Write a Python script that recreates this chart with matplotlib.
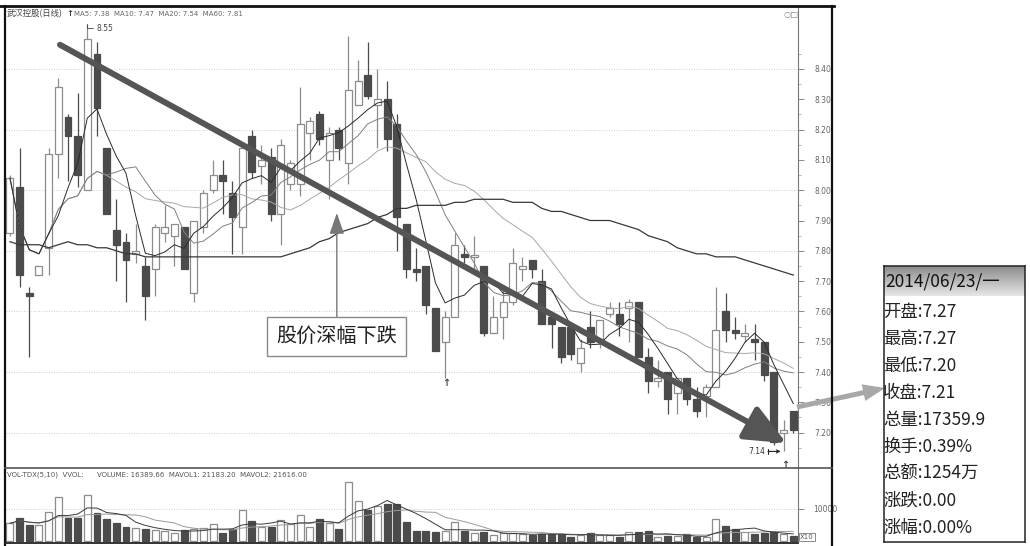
import numpy as np
import pandas as pd
import matplotlib
matplotlib.use("Agg")
import matplotlib.pyplot as plt
from matplotlib.patches import Rectangle, FancyArrow

plt.rcParams['font.family'] = ['Noto Sans CJK SC', 'DejaVu Sans']

# daily candles (82 trading days, last = 2014/06/23)
opens = [7.86, 8.01, 7.66, 7.72, 7.81, 8.12, 8.24, 8.18, 8.00, 8.45,
         8.14, 7.87, 7.83, 7.79, 7.75, 7.74, 7.86, 7.85, 7.88, 7.66,
         7.88, 8.00, 8.05, 7.99, 7.88, 8.18, 8.08, 8.11, 7.92, 8.02,
         8.02, 8.19, 8.25, 8.10, 8.20, 8.09, 8.28, 8.38, 8.28, 8.30,
         8.22, 7.89, 7.74, 7.75, 7.61, 7.50, 7.58, 7.79, 7.78, 7.75,
         7.53, 7.58, 7.63, 7.74, 7.77, 7.70, 7.58, 7.55, 7.55, 7.43,
         7.55, 7.51, 7.59, 7.59, 7.61, 7.63, 7.45, 7.37, 7.40, 7.33,
         7.38, 7.31, 7.32, 7.35, 7.60, 7.54, 7.52, 7.51, 7.50, 7.40,
         7.20, 7.27]
highs = [8.05, 8.14, 7.68, 7.75, 8.14, 8.37, 8.25, 8.32, 8.55, 8.49,
         8.14, 7.97, 7.86, 7.89, 7.78, 7.89, 7.95, 7.89, 7.88, 7.90,
         8.00, 8.10, 8.10, 8.03, 8.16, 8.20, 8.15, 8.14, 8.17, 8.10,
         8.34, 8.24, 8.26, 8.21, 8.21, 8.51, 8.43, 8.49, 8.40, 8.36,
         8.25, 7.89, 7.81, 7.75, 7.61, 7.60, 7.86, 7.82, 7.85, 7.75,
         7.65, 7.67, 7.81, 7.78, 7.77, 7.74, 7.58, 7.55, 7.55, 7.51,
         7.60, 7.57, 7.63, 7.63, 7.64, 7.63, 7.48, 7.44, 7.40, 7.38,
         7.38, 7.35, 7.36, 7.68, 7.66, 7.58, 7.56, 7.56, 7.50, 7.40,
         7.24, 7.27]
lows = [7.85, 7.68, 7.45, 7.72, 7.72, 8.04, 8.03, 8.01, 8.00, 8.18,
        7.92, 7.70, 7.63, 7.76, 7.57, 7.65, 7.83, 7.75, 7.74, 7.63,
        7.86, 7.99, 7.92, 7.79, 7.79, 8.04, 8.02, 7.90, 7.82, 8.00,
        7.98, 8.10, 8.15, 7.97, 8.10, 8.02, 8.28, 8.30, 8.14, 8.13,
        7.80, 7.71, 7.70, 7.59, 7.47, 7.38, 7.58, 7.76, 7.73, 7.52,
        7.53, 7.51, 7.62, 7.70, 7.71, 7.56, 7.48, 7.43, 7.44, 7.40,
        7.48, 7.48, 7.58, 7.52, 7.50, 7.45, 7.33, 7.35, 7.26, 7.26,
        7.29, 7.25, 7.25, 7.35, 7.50, 7.51, 7.50, 7.44, 7.37, 7.16,
        7.14, 7.20]
closes = [8.04, 7.72, 7.65, 7.75, 8.12, 8.34, 8.18, 8.05, 8.50, 8.27,
          7.92, 7.82, 7.77, 7.80, 7.65, 7.88, 7.88, 7.89, 7.74, 7.90,
          7.99, 8.05, 8.03, 7.91, 8.14, 8.06, 8.10, 7.92, 8.15, 8.09,
          8.22, 8.23, 8.17, 8.19, 8.14, 8.33, 8.36, 8.31, 8.30, 8.17,
          7.91, 7.74, 7.73, 7.62, 7.47, 7.58, 7.82, 7.78, 7.78, 7.53,
          7.58, 7.63, 7.76, 7.75, 7.74, 7.56, 7.56, 7.45, 7.46, 7.48,
          7.50, 7.57, 7.61, 7.56, 7.63, 7.45, 7.37, 7.38, 7.31, 7.38,
          7.31, 7.27, 7.35, 7.54, 7.54, 7.53, 7.53, 7.50, 7.39, 7.17,
          7.21, 7.21]
# volume in chart units (x10 hands)
volumes = [5600, 7200, 5000, 5000, 9000, 13750, 7200, 7300, 14400, 8750,
           6900, 5600, 4400, 4100, 3750, 3400, 3100, 2500, 3400, 3750,
           4100, 5300, 2500, 3750, 9700, 6250, 4400, 4400, 6500, 5300,
           8100, 4400, 6900, 5600, 3750, 18400, 12500, 9700, 10900, 11600,
           11600, 5900, 3100, 3100, 2900, 3100, 5900, 3100, 2500, 2900,
           1900, 2500, 2500, 2200, 1900, 2400, 2400, 2400, 1300, 1900,
           2500, 1900, 1900, 1300, 2900, 2900, 3100, 1300, 1600, 1600,
           2200, 1300, 1300, 6900, 4700, 3750, 2900, 2400, 2500, 2900,
           2200, 1736]
# MA60 needs older history, so read straight from the chart
ma60 = [7.83, 7.82, 7.82, 7.82, 7.81, 7.82, 7.83, 7.82, 7.82, 7.81,
        7.81, 7.80, 7.79, 7.79, 7.78, 7.78, 7.78, 7.78, 7.78, 7.78,
        7.78, 7.78, 7.78, 7.78, 7.78, 7.78, 7.78, 7.78, 7.78, 7.79,
        7.80, 7.81, 7.83, 7.84, 7.86, 7.87, 7.88, 7.89, 7.91, 7.92,
        7.94, 7.94, 7.95, 7.95, 7.95, 7.95, 7.96, 7.96, 7.97, 7.97,
        7.97, 7.97, 7.96, 7.96, 7.96, 7.94, 7.93, 7.93, 7.92, 7.91,
        7.90, 7.90, 7.90, 7.89, 7.88, 7.87, 7.85, 7.84, 7.83, 7.81,
        7.80, 7.79, 7.79, 7.78, 7.78, 7.78, 7.77, 7.76, 7.75, 7.74,
        7.73, 7.72]

info_date = "2014/06/23/一"
info_rows = ["开盘:7.27", "最高:7.27", "最低:7.20", "收盘:7.21", "总量:17359.9",
             "换手:0.39%", "总额:1254万", "涨跌:0.00", "涨幅:0.00%"]

W, H = 1030, 546
fig = plt.figure(figsize=(W / 100, H / 100), dpi=100)


def frac(x0, y0, x1, y1):
    return [x0 / W, 1 - y1 / H, (x1 - x0) / W, (y1 - y0) / H]


DARK = '#4b4b4b'
EDGE = '#8c8c8c'

o = np.array(opens); h = np.array(highs); l = np.array(lows); c = np.array(closes)
idx = np.arange(len(o))
up = c >= o
cs = pd.Series(closes)
ma5 = cs.rolling(5, min_periods=1).mean()
ma10 = cs.rolling(10, min_periods=1).mean()
ma20 = cs.rolling(20, min_periods=1).mean()

# ---- price panel
ax = fig.add_axes(frac(6, 7, 798, 467))
ax.set_xlim(-0.41, 81.49)
ax.set_ylim(7.0865, 8.6046)
for g in np.arange(7.2, 8.41, 0.2):
    ax.axhline(g, color='#bdbdbd', lw=0.6, ls=(0, (1, 2)), zorder=0)

ax.vlines(idx[up], l[up], h[up], color=EDGE, lw=0.9, zorder=2)
ax.vlines(idx[~up], l[~up], h[~up], color=DARK, lw=0.9, zorder=2)
body_lo = np.minimum(o, c)
body_h = np.maximum(np.abs(c - o), 0.006)
ax.bar(idx[up], body_h[up], bottom=body_lo[up], width=0.72, color='white',
       edgecolor=EDGE, lw=0.9, zorder=3)
ax.bar(idx[~up], body_h[~up], bottom=body_lo[~up], width=0.72, color=DARK,
       edgecolor=DARK, lw=0.9, zorder=3)

ax.plot(idx, ma20, color='#a8a8a8', lw=0.7, zorder=4)
ax.plot(idx, ma10, color='#808080', lw=0.7, zorder=4)
ax.plot(idx, ma5, color='#2a2a2a', lw=0.7, zorder=4)
ax.plot(idx, ma60, color='#383838', lw=0.9, zorder=4)

for s in ['left', 'top', 'bottom']:
    ax.spines[s].set_visible(False)
ax.spines['right'].set_color('#777')
ax.yaxis.tick_right()
ax.set_yticks(np.round(np.arange(7.2, 8.41, 0.1), 2))
ax.set_yticks(np.round(np.arange(7.15, 8.46, 0.05), 2), minor=True)
ax.yaxis.set_major_formatter(matplotlib.ticker.FormatStrFormatter('%.2f'))
ax.tick_params(axis='y', which='major', length=4, width=0.6, color='#777',
               labelsize=5.5, labelcolor='#666', pad=8)
ax.tick_params(axis='y', which='minor', length=2, width=0.5, color='#999')
for t in ax.get_yticklabels():
    t.set_family('DejaVu Sans')
ax.set_xticks([])

# trend arrow
ax.annotate('', xy=(80.3, 7.165), xytext=(5.17, 8.48),
            arrowprops=dict(arrowstyle='-|>,head_length=1.25,head_width=0.55',
                            mutation_scale=20, lw=4.3, color='#555',
                            shrinkA=0, shrinkB=0), zorder=6)
# label box with thin arrow
ax.annotate('股价深幅下跌', xy=(33.8, 7.925), xytext=(33.8, 7.516),
            ha='center', va='center', fontsize=14.5, color='#222',
            bbox=dict(boxstyle='square,pad=0.45', fc='white', ec='#8a8a8a', lw=1),
            arrowprops=dict(arrowstyle='-|>,head_length=1.3,head_width=0.45',
                            mutation_scale=10, lw=1, color='#777', shrinkA=0, shrinkB=0),
            zorder=7)
# high / low marks
ax.annotate('8.55', xy=(8, 8.55), xytext=(8.9, 8.535), fontsize=5.5, color='#444',
            va='center', family='DejaVu Sans',
            arrowprops=dict(arrowstyle='-', lw=0.6, color='#444',
                            connectionstyle='angle,angleA=0,angleB=90,rad=0',
                            shrinkA=0, shrinkB=0))
ax.annotate('7.14', xy=(79.7, 7.138), xytext=(78.1, 7.138), fontsize=5.5, color='#333',
            ha='right', va='center', family='DejaVu Sans',
            arrowprops=dict(arrowstyle=']->,widthA=0.3,lengthA=0', lw=0.8, color='#222',
                            shrinkA=0, shrinkB=0))
for i in (45, 80):
    ax.text(i + 0.15, l[i] + (0.0 if i == 45 else -0.03), '↑', ha='center', va='top',
            fontsize=7, fontweight='bold', color='#444', family='DejaVu Sans')

# ---- volume panel
axv = fig.add_axes(frac(6, 468, 798, 542))
axv.set_xlim(-0.41, 81.49)
axv.set_ylim(-154, 22615)
axv.axhline(10000, color='#bdbdbd', lw=0.6, ls=(0, (1, 2)), zorder=0)
v = np.array(volumes)
axv.bar(idx[up], v[up], width=0.72, color='white', edgecolor=EDGE, lw=0.9, zorder=2)
axv.bar(idx[~up], v[~up], width=0.72, color=DARK, edgecolor=DARK, lw=0.9, zorder=2)
vs = pd.Series(volumes)
axv.plot(idx, vs.rolling(10, min_periods=1).mean(), color='#9a9a9a', lw=0.7, zorder=3)
axv.plot(idx, vs.rolling(5, min_periods=1).mean(), color='#3a3a3a', lw=0.7, zorder=3)
for s in ['left', 'top', 'bottom']:
    axv.spines[s].set_visible(False)
axv.spines['right'].set_color('#777')
axv.yaxis.tick_right()
axv.set_yticks([10000])
axv.set_yticklabels(['10000'], family='DejaVu Sans')
axv.tick_params(axis='y', length=4, width=0.6, color='#777', labelsize=5.5,
                labelcolor='#666', pad=7)
axv.set_xticks([])

# ---- window frame, texts, info box (pixel overlay)
ov = fig.add_axes([0, 0, 1, 1], zorder=10)
ov.set_xlim(0, W)
ov.set_ylim(H, 0)
ov.axis('off')
ov.patch.set_alpha(0)
ov.plot([0, 834], [6, 6], color='#111', lw=2)
ov.plot([5, 5], [6, 546], color='#111', lw=1.6)
ov.plot([832, 832], [6, 546], color='#111', lw=1.6)
ov.plot([5, 832], [467.5, 467.5], color='#555', lw=1.2)
ov.plot([5, 798], [542.5, 542.5], color='#222', lw=1.3)
ov.text(7, 14, '武汉控股(日线)', fontsize=6, color='#444', va='center')
ov.text(66, 13, '↑', fontsize=6, color='#444', va='center', family='DejaVu Sans',
        fontweight='bold')
ov.text(74, 14, 'MA5: 7.38  MA10: 7.47  MA20: 7.54  MA60: 7.81', fontsize=5,
        color='#666', va='center', family='DejaVu Sans')
ov.text(783, 14, '○□', fontsize=6, color='#888', va='center', family='DejaVu Sans')
ov.text(7, 475, 'VOL-TDX(5,10)  VVOL:      VOLUME: 16389.66  MAVOL1: 21183.20  MAVOL2: 21616.00',
        fontsize=5, color='#555', va='center', family='DejaVu Sans')
ov.text(807, 537, 'X10', fontsize=5, color='#555', va='center', ha='center',
        family='DejaVu Sans',
        bbox=dict(boxstyle='square,pad=0.15', fc='white', ec='#777', lw=0.6))

ov.add_patch(FancyArrow(797, 407, 88, -19, width=5, head_width=17, head_length=22,
                        length_includes_head=True, color='#a8a8a8', lw=0))

axi = fig.add_axes(frac(884, 266, 1025, 542), zorder=11)
axi.set_xlim(884, 1025)
axi.set_ylim(542, 266)
axi.set_xticks([]); axi.set_yticks([])
for s in axi.spines.values():
    s.set_color('#222'); s.set_linewidth(1.1)
grad = np.linspace(0.55, 0.9, 40).reshape(-1, 1)
axi.imshow(grad, cmap='gray', vmin=0, vmax=1, aspect='auto',
           extent=(884, 1025, 296, 266), zorder=0)
axi.set_xlim(884, 1025)
axi.set_ylim(542, 266)
axi.text(885, 282, info_date, fontsize=12.5, color='#111', va='center', clip_on=True)
for k, row in enumerate(info_rows):
    axi.text(883, 312 + k * 27, row, fontsize=12.5, color='#222', va='center',
             clip_on=True)

fig.savefig('out.png', dpi=100)
